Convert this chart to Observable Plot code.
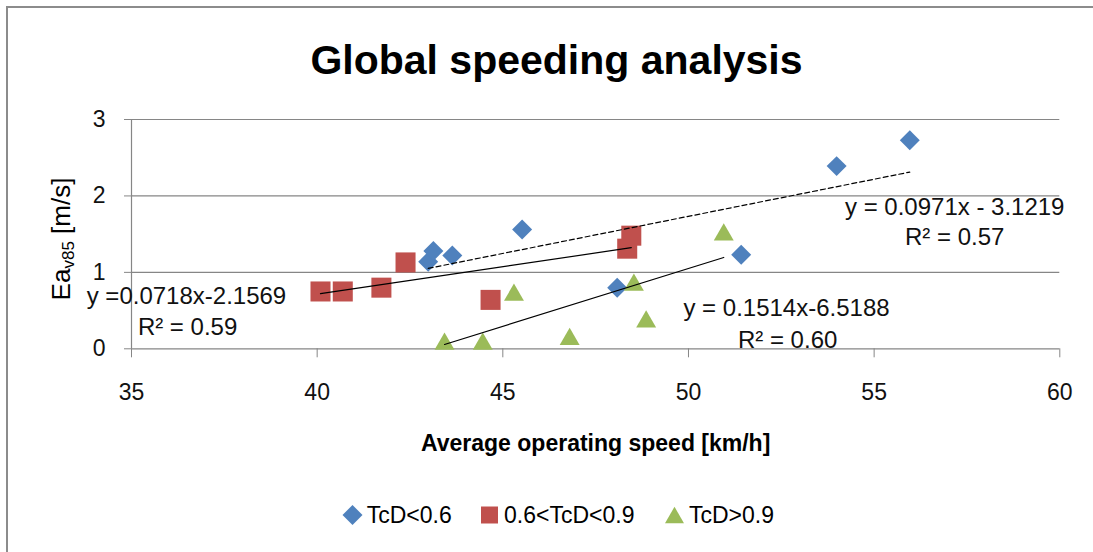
<!DOCTYPE html>
<html><head><meta charset="utf-8">
<script src="https://cdn.jsdelivr.net/npm/d3@7"></script>
<script src="https://cdn.jsdelivr.net/npm/@observablehq/plot@0.6"></script>
<style>
html,body{margin:0;padding:0;background:#fff;width:1093px;height:552px;overflow:hidden;font-family:"Liberation Sans",Arial,sans-serif;}
#frame{position:absolute;left:6px;top:6px;width:1200px;height:700px;border-left:2px solid #8c8c8c;border-top:2px solid #8c8c8c;box-sizing:border-box}
#title{position:absolute;left:0;top:40px;width:1113px;text-align:center;font-weight:bold;font-size:41px;line-height:41px;color:#000;white-space:nowrap}
#chart{position:absolute;left:0;top:100px}
#legend{position:absolute;left:0;top:490px}
</style></head><body>
<div id="frame"></div>
<div id="title">Global speeding analysis</div>
<div id="chart"></div>
<div id="legend"></div>
<script>
// ---- data ----
const seriesNames = ["TcD<0.6", "0.6<TcD<0.9", "TcD>0.9"];
const lowX  = [42.99, 43.13, 43.64, 45.52, 48.08, 51.42, 53.99, 55.96];
const lowY  = [1.14, 1.28, 1.22, 1.56, 0.80, 1.23, 2.39, 2.73];
const midX  = [40.09, 40.69, 41.73, 42.38, 44.67, 48.35, 48.46];
const midY  = [0.75, 0.75, 0.80, 1.13, 0.64, 1.31, 1.48];
const highX = [43.43, 44.46, 45.30, 46.80, 48.53, 48.86, 50.95];
const highY = [0.10, 0.10, 0.74, 0.16, 0.87, 0.39, 1.53];
const trendSlopes = [0.0971, 0.0718, 0.1514];
const trendIntercepts = [-3.1219, -2.1569, -6.5188];
const eqLabels = ["y = 0.0971x - 3.1219", "y =0.0718x-2.1569", "y = 0.1514x-6.5188"];
const r2Labels = ["R\u00B2 = 0.57", "R\u00B2 = 0.59", "R\u00B2 = 0.60"];
const xTicks = [35, 40, 45, 50, 55, 60];
const yTicks = [0, 1, 2, 3];
const xTitle = "Average operating speed [km/h]";
const yTitleMain = "Ea", yTitleSub = "v85", yTitleUnit = " [m/s]";

// ---- build tables ----
const toRows = (xs, ys, s) => xs.map((x, i) => ({x, y: ys[i], series: s}));
const low = toRows(lowX, lowY, seriesNames[0]);
const mid = toRows(midX, midY, seriesNames[1]);
const high = toRows(highX, highY, seriesNames[2]);
const groups = [low, mid, high];
const trends = groups.map((g, i) => {
  const [x0, x1] = d3.extent(g, d => d.x);
  return [x0, x1].map(x => ({x, y: trendSlopes[i] * x + trendIntercepts[i], series: seriesNames[i]}));
});

const colors = ["#4F81BD", "#C0504D", "#9BBB59"];
const gridColor = "#868686";
const txt = "#111";

const svg = Plot.plot({
  width: 1093,
  height: 370,
  marginLeft: 131,
  marginRight: 33.7,
  marginTop: 19,
  marginBottom: 121.7,
  x: {domain: [35, 60]},
  y: {domain: [0, 3]},
  style: {fontFamily: '"Liberation Sans", Arial, sans-serif', fontSize: "23px", color: txt, background: "transparent", overflow: "visible"},
  marks: [
    Plot.ruleY(yTicks, {stroke: gridColor, strokeWidth: 1.2}),
    Plot.ruleX([35], {y1: 0, y2: 3, stroke: gridColor, strokeWidth: 1.2}),
    Plot.axisY({ticks: yTicks, tickSize: 7, tickPadding: 19, stroke: gridColor, fill: txt, fontSize: 23, label: null, tickFormat: d => String(d)}),
    Plot.axisX({ticks: xTicks, tickSize: 9, tickPadding: 26, stroke: gridColor, fill: txt, fontSize: 23, label: null, tickFormat: d => String(d)}),
    Plot.dot(low, {x: "x", y: "y", symbol: "diamond2", r: 9, fill: colors[0], stroke: "none"}),
    Plot.dot(mid, {x: "x", y: "y", symbol: "square", r: 11.3, fill: colors[1], stroke: "none"}),
    Plot.dot(high, {x: "x", y: "y", symbol: "triangle", r: 7.4, fill: colors[2], stroke: "none", dy: 2.8}),
    Plot.line(trends[0], {x: "x", y: "y", stroke: "#000", strokeWidth: 1.2, strokeDasharray: "5,3"}),
    Plot.line(trends[1], {x: "x", y: "y", stroke: "#000", strokeWidth: 1.2}),
    Plot.line(trends[2], {x: "x", y: "y", stroke: "#000", strokeWidth: 1.2}),
    Plot.text([eqLabels[0]], {x: 57.17, y: 1.849, text: d => d, fontSize: 24, fill: txt, textAnchor: "middle"}),
    Plot.text([r2Labels[0]], {x: 57.17, y: 1.456, text: d => d, fontSize: 24, fill: txt, textAnchor: "middle"}),
    Plot.text([eqLabels[1]], {x: 36.48, y: 0.684, text: d => d, fontSize: 24, fill: txt, textAnchor: "middle"}),
    Plot.text([r2Labels[1]], {x: 36.51, y: 0.279, text: d => d, fontSize: 24, fill: txt, textAnchor: "middle"}),
    Plot.text([eqLabels[2]], {x: 52.64, y: 0.527, text: d => d, fontSize: 24, fill: txt, textAnchor: "middle"}),
    Plot.text([r2Labels[2]], {x: 52.67, y: 0.109, text: d => d, fontSize: 24, fill: txt, textAnchor: "middle"}),
    Plot.text([xTitle], {frameAnchor: "bottom", lineAnchor: "middle", dy: 94.7, text: d => d, fontSize: 23, fontWeight: "bold", fill: "#000", textAnchor: "middle"})
  ]
});

// y-axis title with subscript
const yt = d3.select(svg).append("text")
  .attr("transform", "translate(70,139) rotate(-90)")
  .attr("text-anchor", "middle")
  .attr("fill", "#000")
  .style("font-size", "26px");
yt.append("tspan").text(yTitleMain);
yt.append("tspan").attr("dy", 4).style("font-size", "17px").text(yTitleSub);
yt.append("tspan").attr("dy", -4).text(yTitleUnit);

document.getElementById("chart").appendChild(svg);

// legend
const leg = d3.select("#legend").append("svg").attr("width", 1093).attr("height", 60)
  .style("font-family", '"Liberation Sans", Arial, sans-serif');
const legendSyms = [d3.symbolDiamond2, d3.symbolSquare, d3.symbolTriangle];
const legendSizes = [255, 289, 156];
const legendSymX = [352.5, 489.5, 674.5];
const legendTextX = [366.7, 504, 689];
const legendCy = 25, legendBase = 33.3;
seriesNames.forEach((name, i) => {
  leg.append("path")
    .attr("d", d3.symbol(legendSyms[i], legendSizes[i])())
    .attr("transform", `translate(${legendSymX[i]},${legendCy + (i === 2 ? 2.7 : 0)})`)
    .attr("fill", colors[i]);
  leg.append("text").attr("x", legendTextX[i]).attr("y", legendBase)
    .attr("fill", "#000").style("font-size", "23px").text(name);
});
</script>
</body></html>
